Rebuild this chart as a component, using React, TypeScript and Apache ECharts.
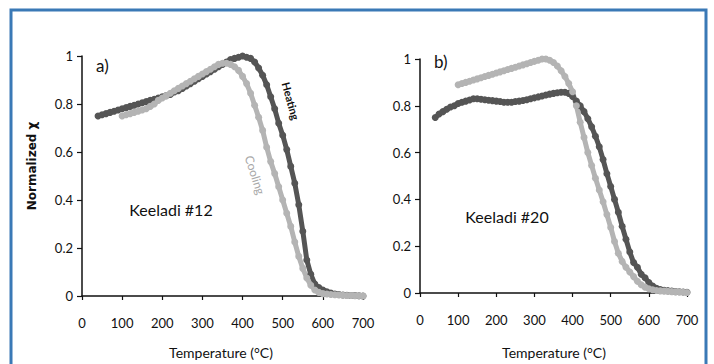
import React, { useEffect, useRef } from "react";
import * as echarts from "echarts";

// Temperatures (°C)
const tempsHeat12 = [40,50,60,70,80,90,100,110,120,130,140,150,160,170,180,190,200,210,220,230,240,250,260,270,280,290,300,310,320,330,340,350,360,370,380,390,400,410,420,430,440,450,460,470,480,490,500,510,520,530,540,550,560,570,580,590,600,610,620,630,640,650,660,670,680,690,700];
const heat12 = [0.75,0.755,0.76,0.765,0.77,0.775,0.78,0.785,0.79,0.795,0.8,0.805,0.81,0.815,0.82,0.825,0.83,0.835,0.84,0.85,0.855,0.865,0.875,0.885,0.895,0.905,0.915,0.925,0.935,0.945,0.955,0.965,0.975,0.985,0.99,0.995,1.0,0.995,0.99,0.975,0.95,0.92,0.88,0.83,0.78,0.72,0.67,0.61,0.54,0.47,0.38,0.27,0.15,0.09,0.05,0.035,0.025,0.018,0.012,0.008,0.006,0.004,0.003,0.002,0.002,0.001,0.0];

const tempsCool12 = [100,110,120,130,140,150,160,170,180,190,200,210,220,230,240,250,260,270,280,290,300,310,320,330,340,350,360,370,380,390,400,410,420,430,440,450,460,470,480,490,500,510,520,530,540,550,560,570,580,590,600,610,620,630,640,650,660,670,680,690,700];
const cool12 = [0.75,0.755,0.76,0.765,0.77,0.775,0.78,0.79,0.8,0.815,0.825,0.835,0.845,0.855,0.865,0.875,0.885,0.895,0.905,0.915,0.925,0.935,0.945,0.955,0.965,0.97,0.97,0.965,0.955,0.94,0.915,0.885,0.845,0.795,0.745,0.69,0.62,0.56,0.51,0.455,0.4,0.345,0.29,0.225,0.165,0.115,0.075,0.045,0.025,0.015,0.01,0.008,0.006,0.005,0.004,0.003,0.002,0.002,0.001,0.001,0.0];

const tempsHeat20 = tempsHeat12;
const heat20 = [0.75,0.765,0.775,0.785,0.795,0.8,0.81,0.815,0.82,0.825,0.83,0.83,0.828,0.826,0.824,0.822,0.82,0.818,0.815,0.815,0.815,0.818,0.82,0.823,0.826,0.83,0.834,0.838,0.842,0.846,0.85,0.853,0.856,0.858,0.858,0.853,0.84,0.82,0.8,0.775,0.745,0.71,0.67,0.625,0.57,0.51,0.455,0.4,0.345,0.285,0.23,0.175,0.13,0.11,0.08,0.065,0.045,0.03,0.02,0.015,0.012,0.01,0.008,0.006,0.005,0.004,0.003];

const tempsCool20 = tempsCool12;
const cool20 = [0.89,0.895,0.9,0.905,0.91,0.915,0.92,0.925,0.93,0.935,0.94,0.945,0.95,0.955,0.96,0.965,0.97,0.975,0.98,0.985,0.99,0.995,1.0,1.0,0.995,0.985,0.97,0.95,0.925,0.895,0.86,0.8,0.73,0.665,0.6,0.545,0.49,0.44,0.39,0.335,0.28,0.22,0.17,0.135,0.11,0.09,0.07,0.05,0.035,0.025,0.018,0.014,0.011,0.009,0.008,0.007,0.006,0.005,0.004,0.003,0.002];

const xTicks = [0, 100, 200, 300, 400, 500, 600, 700];
const yTicks = [0, 0.2, 0.4, 0.6, 0.8, 1];

const HEAT = "#555555";
const COOL = "#b4b4b4";
const FONT = "Lato, 'Open Sans', sans-serif";

function zip(xs: number[], ys: number[]) {
  return ys.map((y, i) => [xs[i], y]);
}

export default function App() {
  const ref = useRef<HTMLDivElement>(null);
  useEffect(() => {
    document.body.style.margin = "0";
    if (!ref.current) return;
    const chart = echarts.init(ref.current, undefined, { renderer: "svg" });

    const xAxisBase = (gridIndex: number) => ({
      type: "value" as const,
      gridIndex,
      min: xTicks[0],
      max: xTicks[xTicks.length - 1],
      interval: 100,
      axisLine: { show: true, onZero: false, lineStyle: { color: "#111", width: 1.5 } },
      axisTick: { show: true, length: 4, lineStyle: { color: "#111", width: 1.2 } },
      axisLabel: { color: "#111", fontSize: 13, fontFamily: FONT, margin: 20 },
      splitLine: { show: false },
    });
    const yAxisBase = (gridIndex: number) => ({
      type: "value" as const,
      gridIndex,
      min: yTicks[0],
      max: yTicks[yTicks.length - 1],
      interval: 0.2,
      axisLine: { show: true, onZero: false, lineStyle: { color: "#111", width: 1.5 } },
      axisTick: { show: true, length: 5, lineStyle: { color: "#111", width: 1.2 } },
      axisLabel: { color: "#111", fontSize: 13, fontFamily: FONT, margin: 9 },
      splitLine: { show: false },
    });

    const series = (name: string, xi: number, data: number[][], color: string, size: number) => ({
      name,
      type: "line" as const,
      xAxisIndex: xi,
      yAxisIndex: xi,
      data,
      symbol: "circle",
      symbolSize: size,
      showSymbol: true,
      itemStyle: { color },
      lineStyle: { color, width: 5 },
      silent: true,
    });

    chart.setOption({
      animation: false,
      backgroundColor: "#ffffff",
      grid: [
        { left: 82, top: 56, width: 281, height: 240 },
        { left: 420, top: 59, width: 267, height: 234 },
      ],
      xAxis: [xAxisBase(0), xAxisBase(1)],
      yAxis: [yAxisBase(0), yAxisBase(1)],
      series: [
        series("Heating a", 0, zip(tempsHeat12, heat12), HEAT, 7),
        series("Cooling a", 0, zip(tempsCool12, cool12), COOL, 7),
        series("Heating b", 1, zip(tempsHeat20, heat20), HEAT, 7),
        series("Cooling b", 1, zip(tempsCool20, cool20), COOL, 7),
      ],
      graphic: [
        {
          type: "rect",
          shape: { x: 11, y: 10, width: 695, height: 370 },
          style: { fill: "none", stroke: "#3a79b6", lineWidth: 3 },
          silent: true,
        },
        { type: "text", x: 96, y: 65, style: { text: "a)", font: `17px ${FONT}`, fill: "#111", textVerticalAlign: "middle" } },
        { type: "text", x: 434, y: 61, style: { text: "b)", font: `17px ${FONT}`, fill: "#111", textVerticalAlign: "middle" } },
        { type: "text", x: 171, y: 209, style: { text: "Keeladi #12", font: `16px ${FONT}`, fill: "#111", textAlign: "center", textVerticalAlign: "middle" } },
        { type: "text", x: 507, y: 216, style: { text: "Keeladi #20", font: `16px ${FONT}`, fill: "#111", textAlign: "center", textVerticalAlign: "middle" } },
        { type: "text", x: 291, y: 101, rotation: -1.3, style: { text: "Heating", font: `bold 11px ${FONT}`, fill: "#111", textAlign: "center", textVerticalAlign: "middle" } },
        { type: "text", x: 255, y: 175, rotation: -1.26, style: { text: "Cooling", font: `12px ${FONT}`, fill: "#a8a8a8", textAlign: "center", textVerticalAlign: "middle" } },
        { type: "text", x: 32, y: 166, rotation: Math.PI / 2, style: { text: "Normalized χ", font: `bold 12px 'DejaVu Sans', sans-serif`, fill: "#111", textAlign: "center", textVerticalAlign: "middle" } },
        { type: "text", x: 221, y: 352, style: { text: "Temperature (°C)", font: `14px ${FONT}`, fill: "#111", textAlign: "center", textVerticalAlign: "middle" } },
        { type: "text", x: 554, y: 352, style: { text: "Temperature (°C)", font: `14px ${FONT}`, fill: "#111", textAlign: "center", textVerticalAlign: "middle" } },
      ],
    });
    return () => chart.dispose();
  }, []);
  return <div ref={ref} style={{ width: 714, height: 364 }} />;
}
